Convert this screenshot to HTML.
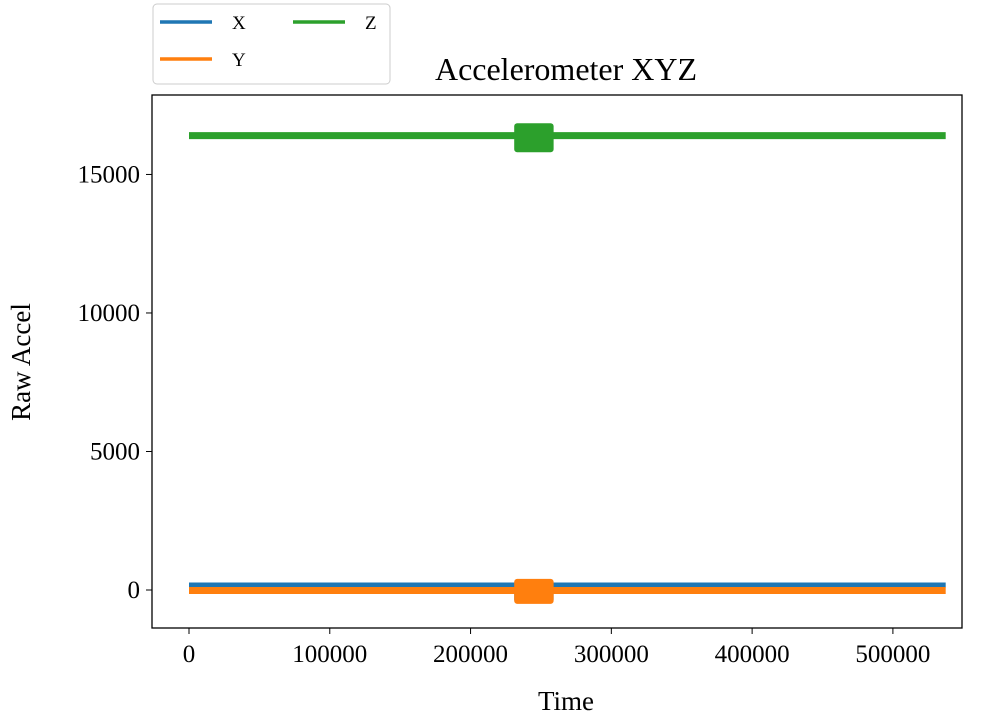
<!DOCTYPE html>
<html><head><meta charset="utf-8"><style>
body{margin:0;background:#fff;}
svg text{font-family:"Liberation Serif",serif;fill:#000;}
</style></head><body>
<svg id="c" width="998" height="723"></svg>
<script>
const xTicks=[0,100000,200000,300000,400000,500000];
const yTicks=[0,5000,10000,15000];
const seriesNames=["X","Y","Z"];
const seriesColors=["#1f77b4","#ff7f0e","#2ca02c"];
const times=[0,537500];
const xValues=[180,180];
const yValues=[-20,-20];
const zValues=[16400,16400];
const burstTimes=[231000,259000];
const burstMin=[-450,-500,15800];
const burstMax=[350,400,16850];
const L=152,T=95,R=962,B=628;
const sx=v=>189+v*0.0014078;
const sy=v=>590-v*0.027703;
const svg=document.getElementById('c');
const NS='http://www.w3.org/2000/svg';
function add(tag,at,parent){const e=document.createElementNS(NS,tag);for(const k in at)e.setAttribute(k,at[k]);(parent||svg).appendChild(e);return e;}
const all=[xValues,yValues,zValues];
all.forEach((vals,i)=>{
 const g=add('g',{});
 
 
 add('polyline',{points:times.map((t,j)=>sx(t)+','+sy(vals[j])).join(' '),fill:'none',stroke:seriesColors[i],'stroke-width':i==0?5:7},g);
 const r=add('rect',{x:sx(burstTimes[0]),y:sy(burstMax[i]),width:sx(burstTimes[1])-sx(burstTimes[0]),height:sy(burstMin[i])-sy(burstMax[i]),rx:3,fill:seriesColors[i]},g);
 
 
});
const frame=add('rect',{x:L,y:T,width:R-L,height:B-T,fill:'none',stroke:'#000','stroke-width':1.3});


xTicks.forEach(v=>{
 add('line',{x1:sx(v),x2:sx(v),y1:B,y2:B+6,stroke:'#000'});
 const t=add('text',{x:sx(v),y:B+34,'text-anchor':'middle','font-size':25});t.textContent=v;
 
 
});
yTicks.forEach(v=>{
 add('line',{x1:L-6,x2:L,y1:sy(v),y2:sy(v),stroke:'#000'});
 const t=add('text',{x:L-12,y:sy(v)+8,'text-anchor':'end','font-size':25});t.textContent=v;
 
 
});
let t=add('text',{x:566,y:710,'text-anchor':'middle','font-size':27});t.textContent='Time';


t=add('text',{x:0,y:0,'text-anchor':'middle','font-size':27,transform:'translate(30,362) rotate(-90)'});t.textContent='Raw Accel';


t=add('text',{x:566,y:80,'text-anchor':'middle','font-size':32});t.textContent='Accelerometer XYZ';


const lg=add('g',{});


add('rect',{x:153,y:4,width:237,height:80,rx:4,fill:'#fff',stroke:'#ccc'},lg);
const pos=[[160,22],[160,59],[293,22]];
seriesNames.forEach((n,i)=>{
 const e=add('g',{},lg);
 
 
 add('line',{x1:pos[i][0],x2:pos[i][0]+52,y1:pos[i][1],y2:pos[i][1],stroke:seriesColors[i],'stroke-width':3.5},e);
 const tx=add('text',{x:pos[i][0]+72,y:pos[i][1]+7,'font-size':19},e);tx.textContent=n;
});
</script>
</body></html>
